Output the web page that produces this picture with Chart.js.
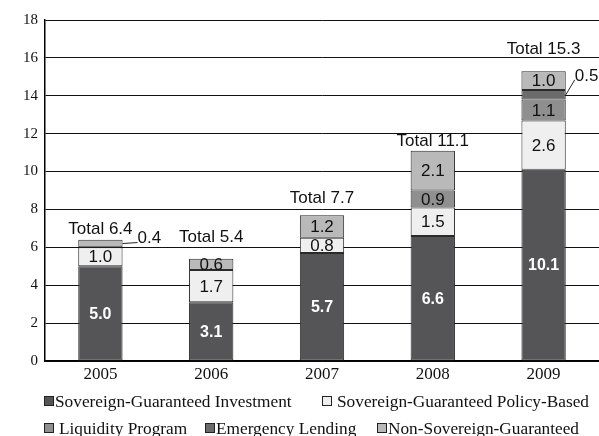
<!DOCTYPE html>
<html>
<head>
<meta charset="utf-8">
<script src="https://cdn.jsdelivr.net/npm/chart.js@4/dist/chart.umd.min.js"></script>
<style>
  html, body { margin: 0; padding: 0; background: #fff; }
  #wrap { width: 599px; height: 436px; position: relative; }
</style>
</head>
<body>
<div id="wrap"><canvas id="lendingChart" width="599" height="436"></canvas></div>
<script>
// Values
const years = ['2005', '2006', '2007', '2008', '2009'];
const sgInvestment = [5.0, 3.1, 5.7, 6.6, 10.1];
const sgPolicyBased = [1.0, 1.7, 0.8, 1.5, 2.6];
const liquidityProgram = [null, null, null, 0.9, 1.1];
const emergencyLending = [null, null, null, null, 0.5];
const nonSovereign = [0.4, 0.6, 1.2, 2.1, 1.0];
const totals = [6.4, 5.4, 7.7, 11.1, 15.3];
const yTicks = [0, 2, 4, 6, 8, 10, 12, 14, 16, 18];

const seriesNames = [
  'Sovereign-Guaranteed Investment',
  'Sovereign-Guaranteed Policy-Based',
  'Liquidity Program',
  'Emergency Lending',
  'Non-Sovereign-Guaranteed'
];
const seriesColors = ['#555557', '#efefef', '#8f8f90', '#6b6b6c', '#b9b9ba'];

// small labels that sit outside the bar with a leader line: "dataset,index" -> offset
const callouts = { '4,0': [15, -5], '3,4': [9, -19] };
// gap between bar top and its "Total" label
const totalGap = [10, 21, 17, 9, 22];

const sans = '"Liberation Sans", Arial, sans-serif';
const serif = '"Liberation Serif", "Times New Roman", serif';

const labelPlugin = {
  id: 'segmentLabels',
  afterDatasetsDraw(chart) {
    const ctx = chart.ctx;
    ctx.save();
    ctx.textBaseline = 'middle';
    chart.data.datasets.forEach((ds, di) => {
      const meta = chart.getDatasetMeta(di);
      meta.data.forEach((el, i) => {
        const v = ds.data[i];
        if (v === null) return;
        const cy = (el.y + el.base) / 2;
        const txt = v.toFixed(1);
        const key = di + ',' + i;
        if (callouts[key]) {
          const [dx, dy] = callouts[key];
          const x0 = el.x + el.width / 2;
          ctx.strokeStyle = '#222';
          ctx.lineWidth = 1;
          ctx.beginPath();
          ctx.moveTo(x0, cy);
          ctx.lineTo(x0 + dx, cy + dy + 4);
          ctx.stroke();
          ctx.fillStyle = '#111';
          ctx.font = '17px ' + sans;
          ctx.textAlign = 'left';
          ctx.fillText(txt, x0 + dx, cy + dy);
          return;
        }
        ctx.textAlign = 'center';
        if (di === 0) {
          ctx.fillStyle = '#fff';
          ctx.font = 'bold 16px ' + sans;
        } else {
          ctx.fillStyle = '#111';
          ctx.font = '17px ' + sans;
        }
        ctx.fillText(txt, el.x, cy + 1);
      });
    });
    // totals above each stack
    const base = chart.getDatasetMeta(0).data;
    const ys = chart.scales.y;
    ctx.fillStyle = '#111';
    ctx.font = '17px ' + sans;
    ctx.textAlign = 'center';
    totals.forEach((t, i) => {
      ctx.fillText('Total ' + t.toFixed(1), base[i].x, ys.getPixelForValue(t) - totalGap[i]);
    });
    ctx.restore();
  }
};

const legendPlugin = {
  id: 'twoRowLegend',
  afterDraw(chart) {
    const ctx = chart.ctx;
    // x, middle of row for each series entry
    const spots = [[44, 401], [322, 401], [44, 428], [205, 428], [377, 428]];
    ctx.save();
    ctx.font = '17.3px ' + serif;
    ctx.textBaseline = 'middle';
    ctx.textAlign = 'left';
    chart.data.datasets.forEach((ds, di) => {
      const [x, y] = spots[di];
      ctx.fillStyle = ds.backgroundColor;
      ctx.fillRect(x + 0.5, y - 4.5, 9, 9);
      ctx.strokeStyle = '#222';
      ctx.lineWidth = 1;
      ctx.strokeRect(x + 0.5, y - 4.5, 9, 9);
      ctx.fillStyle = '#111';
      const gap = di === 0 || di === 3 || di === 4 ? 11 : 15;
      ctx.fillText(ds.label, x + gap, y + 1);
    });
    ctx.restore();
  }
};

const seriesData = [sgInvestment, sgPolicyBased, liquidityProgram, emergencyLending, nonSovereign];

new Chart(document.getElementById('lendingChart'), {
  type: 'bar',
  data: {
    labels: years,
    datasets: seriesData.map((d, i) => ({
      label: seriesNames[i],
      data: d,
      backgroundColor: seriesColors[i],
      borderColor: '#2a2a2a',
      borderWidth: 1,
      borderSkipped: false,
      categoryPercentage: 1,
      barPercentage: 0.4
    }))
  },
  options: {
    responsive: false,
    animation: false,
    layout: { padding: { top: 20, right: 0, bottom: 50, left: 0 } },
    plugins: { legend: { display: false }, tooltip: { enabled: false } },
    scales: {
      x: {
        stacked: true,
        grid: { display: false, drawTicks: false },
        border: { color: '#000', width: 1.5 },
        ticks: { color: '#111', font: { family: serif, size: 17 }, padding: 3 },
        afterFit(s) { s.height = 25; }
      },
      y: {
        stacked: true,
        min: 0,
        max: 18,
        afterBuildTicks(s) { s.ticks = yTicks.map(v => ({ value: v })); },
        grid: { color: '#111', lineWidth: 1, drawTicks: false },
        border: { color: '#000', width: 1.5 },
        ticks: { color: '#111', font: { family: serif, size: 15 }, padding: 7 },
        afterFit(s) { s.width = 45; }
      }
    }
  },
  plugins: [labelPlugin, legendPlugin]
});
</script>
</body>
</html>
